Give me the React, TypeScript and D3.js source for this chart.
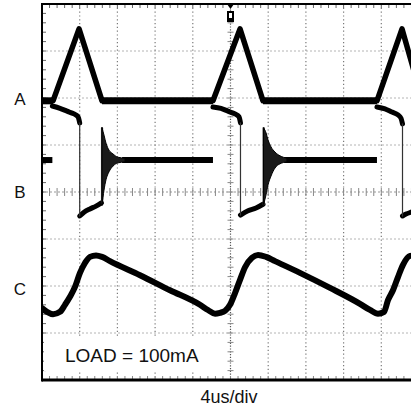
import React from 'react';
import * as d3 from 'd3';

const W = 411;
const H = 406;

// Horizontal axis: time in microseconds (4 us/div, 10 divisions).
// Vertical axis: screen divisions (8 divisions, centre = 0).
const TIME_DOMAIN: [number, number] = [0, 40];
const DIV_DOMAIN: [number, number] = [-4, 4];
const US_PER_DIV = 4;

const channelLabels = ['A', 'B', 'C'];
const channelLevels = [1.96, 0.0, -2.1];
const loadLabel = 'LOAD = 100mA';
const timebaseLabel = '4us/div';

// Channel A: triangular pulses on a flat baseline
const traceA: [number, number][] = [
  [0, 1.94], [1.17, 1.94], [3.93, 3.47], [6.37, 1.94],
  [18.14, 1.94], [21.01, 3.47], [23.45, 1.94],
  [35.54, 1.94], [38.2, 3.47], [40, 2.2],
];

// Channel B: flat level, high plateau, low plateau, ringing after each edge
const traceBFlat: [number, number][][] = [
  [[0, 0.68], [1.1, 0.68]],
  [[8.5, 0.68], [18.14, 0.68]],
  [[25.7, 0.68], [35.54, 0.68]],
];
const traceBHigh: [number, number][][] = [
  [[1.1, 1.83], [1.91, 1.78], [2.65, 1.72], [3.4, 1.66], [3.82, 1.6], [4.0, 1.47]],
  [[18.14, 1.81], [18.99, 1.78], [19.73, 1.72], [20.48, 1.66], [20.9, 1.6], [21.06, 1.47]],
  [[35.54, 1.81], [36.39, 1.77], [37.14, 1.7], [37.77, 1.64], [38.09, 1.57], [38.25, 1.45]],
];
const traceBLow: [number, number][][] = [
  [[4.0, -0.51], [4.46, -0.43], [5.09, -0.36], [5.73, -0.3], [6.3, -0.23]],
  [[21.06, -0.49], [21.86, -0.4], [22.71, -0.34], [23.45, -0.26]],
  [[38.25, -0.51], [38.62, -0.47], [39.15, -0.43], [40, -0.38]],
];
// fast edges: [time, from, to]
const traceBEdges: [number, number, number][] = [
  [4.0, 1.47, -0.51],
  [6.37, -0.23, 1.36],
  [21.06, 1.47, -0.49],
  [23.52, -0.26, 1.36],
  [38.25, 1.45, -0.51],
];
// ringing envelope: [time, upper, lower]
const traceBRinging: [number, number, number][][] = [
  [[6.37, 1.36, -0.28], [6.58, 1.21, 0.04], [6.79, 1.04, 0.26], [7.11, 0.89, 0.43],
   [7.53, 0.81, 0.55], [8.06, 0.74, 0.62], [8.81, 0.72, 0.64]],
  [[23.52, 1.36, -0.26], [23.77, 1.26, -0.06], [23.98, 1.11, 0.15], [24.3, 0.96, 0.34],
   [24.72, 0.85, 0.51], [25.25, 0.77, 0.6], [25.99, 0.72, 0.64]],
];

// Channel C: smooth sawtooth-like ripple
const traceC: [number, number][] = [
  [0, -2.47], [0.53, -2.55], [1.17, -2.6], [1.91, -2.55], [2.44, -2.4], [2.97, -2.23],
  [3.5, -2.02], [4.03, -1.72], [4.56, -1.51], [5.09, -1.38], [5.73, -1.35], [6.37, -1.38],
  [7.21, -1.47], [10.4, -1.77], [13.58, -2.09], [16.76, -2.4], [17.61, -2.51], [18.36, -2.59],
  [18.89, -2.57], [19.42, -2.53], [19.95, -2.4], [20.48, -2.15], [21.01, -1.87], [21.54, -1.6],
  [22.28, -1.4], [22.92, -1.34], [23.77, -1.38], [24.72, -1.47], [27.37, -1.72], [30.56, -2.04],
  [33.74, -2.38], [34.8, -2.51], [35.65, -2.59], [36.29, -2.55], [36.71, -2.3], [37.24, -2.09],
  [37.77, -1.81], [38.3, -1.55], [39.04, -1.36], [40, -1.34],
];

const x = d3.scaleLinear().domain(TIME_DOMAIN).range([42, 419]);
const y = d3.scaleLinear().domain(DIV_DOMAIN).range([380, 4]);

const line = d3.line<[number, number]>().x(d => x(d[0])).y(d => y(d[1]));
const smooth = d3.line<[number, number]>().x(d => x(d[0])).y(d => y(d[1])).curve(d3.curveMonotoneX);
const ringArea = d3.area<[number, number, number]>()
  .x(d => x(d[0])).y0(d => y(d[2])).y1(d => y(d[1])).curve(d3.curveMonotoneX);

const FONT = '"Liberation Sans", Arial, Helvetica, sans-serif';

export default function App() {
  const majorT = d3.range(TIME_DOMAIN[0] + US_PER_DIV, TIME_DOMAIN[1], US_PER_DIV);
  const majorV = d3.range(DIV_DOMAIN[0] + 1, DIV_DOMAIN[1], 1);
  const minorT = d3.range(TIME_DOMAIN[0], TIME_DOMAIN[1] + 0.01, US_PER_DIV / 5);
  const minorV = d3.range(DIV_DOMAIN[0], DIV_DOMAIN[1] + 0.01, 0.2);
  const xc = x(20);
  const yc = y(0);
  const flatA = traceA.slice(1).map((p, i) => [traceA[i], p] as [number, number][])
    .filter(s => s[0][1] === s[1][1]);

  return (
    <svg width={W} height={H} style={{ position: 'absolute', left: 0, top: 0, background: '#fff' }}>
      <defs>
        <clipPath id="screen">
          <rect x={x(0)} y={y(4)} width={x(40) - x(0)} height={y(-4) - y(4)} />
        </clipPath>
      </defs>
      <rect width={W} height={H} fill="#fff" />

      {/* graticule */}
      <g>
        {majorV.map(v => v !== 0 && (
          <line key={'h' + v} x1={x(0)} x2={x(40)} y1={y(v)} y2={y(v)}
            stroke="#b4b4b4" strokeWidth={1} strokeDasharray="2 2" />
        ))}
        {majorT.map(t => t !== 20 && (
          <line key={'v' + t} x1={x(t)} x2={x(t)} y1={y(4)} y2={y(-4)}
            stroke="#7a7a7a" strokeWidth={1.2} strokeDasharray="1.2 2.6" />
        ))}
        <line x1={x(0)} x2={x(40)} y1={yc} y2={yc} stroke="#999" strokeWidth={1} strokeDasharray="2 2" />
        <line x1={xc} x2={xc} y1={y(4)} y2={y(-4)} stroke="#555" strokeWidth={1.2} strokeDasharray="1.2 1.6" />
        {minorT.map(t => (
          <g key={'mt' + t}>
            <line x1={x(t)} x2={x(t)} y1={y(4)} y2={y(4) + 4} stroke="#666" />
            <line x1={x(t)} x2={x(t)} y1={y(-4)} y2={y(-4) - 4} stroke="#888" />
            <line x1={x(t)} x2={x(t)} y1={yc - 4} y2={yc + 4} stroke="#888" />
          </g>
        ))}
        {minorV.map(v => (
          <g key={'mv' + v}>
            <line x1={x(0)} x2={x(0) + 4} y1={y(v)} y2={y(v)} stroke="#666" />
            <line x1={xc - 3} x2={xc + 3} y1={y(v)} y2={y(v)} stroke="#888" />
          </g>
        ))}
      </g>

      {/* load annotation box */}
      <rect x={44} y={337} width={168} height={34} fill="#fff" />
      <text x={65} y={362} fontFamily={FONT} fontSize={19} fill="#111">{loadLabel}</text>

      {/* traces */}
      <g clipPath="url(#screen)" fill="none" stroke="#000" strokeLinejoin="round" strokeLinecap="round">
        <path d={line(traceA) ?? ''} strokeWidth={5.5} />
        {flatA.map((s, i) => <path key={'fa' + i} d={line(s) ?? ''} strokeWidth={7} strokeLinecap="butt" />)}

        {traceBFlat.map((s, i) => <path key={'bf' + i} d={line(s) ?? ''} strokeWidth={6} strokeLinecap="butt" />)}
        {traceBHigh.map((s, i) => <path key={'bh' + i} d={smooth(s) ?? ''} strokeWidth={5} />)}
        {traceBLow.map((s, i) => <path key={'bl' + i} d={smooth(s) ?? ''} strokeWidth={5} />)}
        {traceBEdges.map((e, i) => (
          <line key={'be' + i} x1={x(e[0])} x2={x(e[0])} y1={y(e[1])} y2={y(e[2])}
            stroke="#333" strokeWidth={e[2] > e[1] ? 2.2 : 1.2} />
        ))}
        {traceBRinging.map((r, i) => (
          <path key={'br' + i} d={ringArea(r) ?? ''} fill="#1a1a1a" stroke="#000" strokeWidth={1} />
        ))}

        <path d={smooth(traceC) ?? ''} strokeWidth={6} />
      </g>

      {/* trigger position marker */}
      <path d={`M${xc - 3.5},${y(4)} L${xc + 3.5},${y(4)} L${xc},${y(4) + 5} Z`} fill="#000" />
      <rect x={xc - 3.5} y={11} width={7} height={11} fill="#000" />
      <rect x={xc - 1.5} y={13} width={3} height={5} fill="#fff" />

      {/* frame */}
      <line x1={x(0)} x2={x(40)} y1={y(4)} y2={y(4)} stroke="#000" strokeWidth={2} />
      <line x1={x(0)} x2={x(40)} y1={y(-4)} y2={y(-4)} stroke="#000" strokeWidth={3} />
      <line x1={x(0)} x2={x(0)} y1={y(4) - 1} y2={y(-4) + 1.5} stroke="#000" strokeWidth={2} />

      {/* channel labels */}
      {channelLabels.map((c, i) => (
        <text key={c} x={20} y={[105, 198, 295][i]} textAnchor="middle"
          fontFamily={FONT} fontSize={17} fill="#111" data-level={channelLevels[i]}>{c}</text>
      ))}
      <text x={229} y={403} textAnchor="middle" fontFamily={FONT} fontSize={18} fill="#111">{timebaseLabel}</text>
    </svg>
  );
}
